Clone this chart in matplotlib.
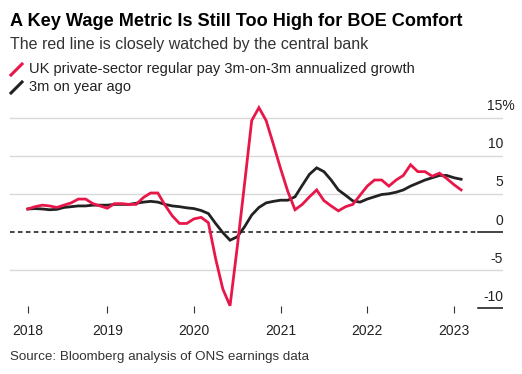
import matplotlib
matplotlib.use('Agg')
import matplotlib.pyplot as plt
from matplotlib.lines import Line2D

plt.rcParams['font.family'] = ['Liberation Sans', 'DejaVu Sans']

# monthly points, index 1 = Feb 2018 ... 61 = Feb 2023
months = list(range(1, 62))

# UK private-sector regular pay, 3m-on-3m annualized growth (%)
red_vals = [3.0, 3.3, 3.5, 3.4, 3.2, 3.5, 3.8, 4.3, 4.3, 3.7,
            3.4, 3.1, 3.7, 3.7, 3.6, 3.6, 4.5, 5.1, 5.1, 3.5,
            2.1, 1.1, 1.1, 1.7, 1.9, 1.2, -3.5, -7.5, -9.7, -2.0,
            6.2, 14.6, 16.3, 14.6, 11.5, 8.3, 5.3, 2.9, 3.6, 4.6,
            5.5, 4.1, 3.4, 2.75, 3.3, 3.6, 4.8, 6.0, 6.8, 6.8,
            6.0, 6.8, 7.4, 8.8, 7.9, 7.9, 7.3, 7.7, 7.0, 6.2,
            5.5]

# 3m on year ago (%)
black_vals = [3.0, 3.05, 3.0, 2.9, 2.95, 3.2, 3.3, 3.4, 3.4, 3.5,
              3.5, 3.5, 3.6, 3.6, 3.6, 3.75, 3.9, 4.0, 3.9, 3.6,
              3.4, 3.3, 3.15, 3.05, 2.8, 2.4, 1.1, -0.1, -1.1, -0.65,
              0.65, 2.2, 3.2, 3.8, 4.0, 4.15, 4.15, 4.6, 6.1, 7.55,
              8.4, 7.9, 6.8, 5.5, 4.8, 4.06, 3.9, 4.3, 4.6, 4.9,
              5.0, 5.2, 5.5, 6.0, 6.4, 6.8, 7.1, 7.4, 7.4, 7.1,
              6.9]

year_ticks = [1, 12, 24, 36, 48, 60]
year_labels = ['2018', '2019', '2020', '2021', '2022', '2023']
y_grid = [15, 10, 5, 0, -5, -10]
y_labels = ['15%', '10', '5', '0', '-5', '-10']

red = '#e8174a'
dark = '#222222'
W, H = 522, 374

fig = plt.figure(figsize=(W / 100, H / 100), dpi=100)
# axes spans pixel x 10..503, y 100..313
ax = fig.add_axes([10 / W, 1 - 313 / H, 493 / W, 213 / H])
ax.set_xlim(-1.47, 66.8)
ax.set_ylim(-10.65, 17.3)
for s in ax.spines.values():
    s.set_visible(False)

# gridlines
for v in [15, 10, 5, -5]:
    ax.axhline(v, color='#d9d9d9', lw=1.0, zorder=1)
ax.axhline(0, xmin=0, xmax=0.949, color='#111111', lw=1.1, ls=(0, (3.0, 2.2)), zorder=2)
ax.axhline(0, xmin=0.949, xmax=1, color='#111111', lw=1.1, zorder=2)
ax.axhline(-10, xmin=0.949, xmax=1, color='#111111', lw=1.1, zorder=2)

ax.plot(months, black_vals, color=dark, lw=2.0, zorder=3, solid_joinstyle='miter')
ax.plot(months, red_vals, color=red, lw=2.0, zorder=4, solid_joinstyle='miter')

# y labels on the right, above gridlines ('%' hangs past the edge)
for v, lab in zip(y_grid, y_labels):
    xpos = 1.0 + (12 / 493 if lab.endswith('%') else 0)
    ax.text(xpos, v + 0.95, lab, transform=ax.get_yaxis_transform(),
            ha='right', va='baseline', fontsize=10, color='#222222')
ax.set_yticks([])

ax.set_xticks(year_ticks)
ax.set_xticklabels(year_labels, fontsize=10, color='#222222')
ax.tick_params(axis='x', direction='in', length=5, width=0.8, color='#333333', pad=8)

# title block
fig.text(10 / W, 1 - 22 / H, 'A Key Wage Metric Is Still Too High for BOE Comfort',
         fontsize=13.1, fontweight='bold', ha='left', va='center', color='#000000')
fig.text(10 / W, 1 - 44 / H, 'The red line is closely watched by the central bank',
         fontsize=11.5, ha='left', va='center', color='#333333')

# legend
fig.text(29 / W, 1 - 69 / H, 'UK private-sector regular pay 3m-on-3m annualized growth',
         fontsize=10.5, ha='left', va='center', color='#222222')
fig.text(29 / W, 1 - 87 / H, '3m on year ago',
         fontsize=10.5, ha='left', va='center', color='#222222')
fig.add_artist(Line2D([11 / W, 22 / W], [1 - 75 / H, 1 - 64 / H], color=red, lw=2.2))
fig.add_artist(Line2D([11 / W, 22 / W], [1 - 93 / H, 1 - 82 / H], color=dark, lw=2.2))

fig.text(10 / W, 1 - 357 / H, 'Source: Bloomberg analysis of ONS earnings data',
         fontsize=9.6, ha='left', va='center', color='#333333')

fig.savefig('out.png', dpi=100)
